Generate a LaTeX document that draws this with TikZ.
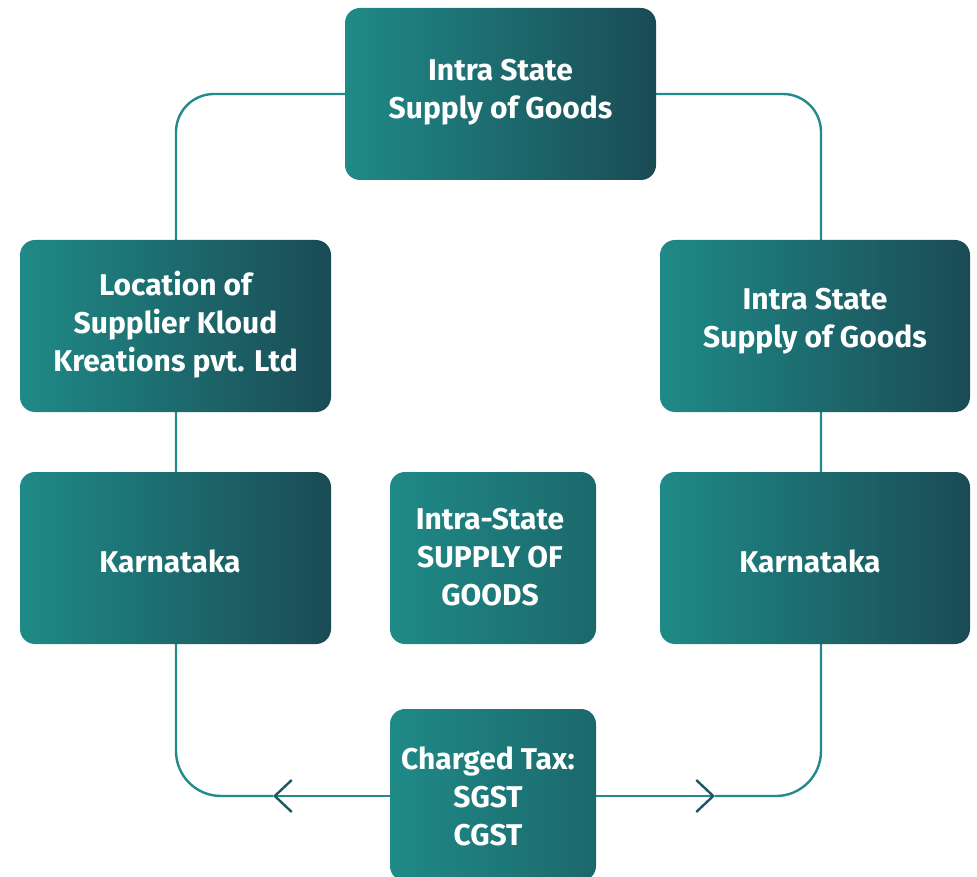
\documentclass[tikz,border=0pt]{standalone}
\usepackage{fontspec}
\setmainfont{Fira Sans}
\usetikzlibrary{arrows.meta}
\definecolor{tealL}{HTML}{1F8A87}
\definecolor{tealR}{HTML}{1A4B55}
\definecolor{tealM}{HTML}{1C686C}
\definecolor{lineC}{HTML}{23898A}
\definecolor{chev}{HTML}{1B5860}
\tikzset{
  box/.style={rounded corners=15pt, left color=tealL, right color=tealR, draw=none},
  boxm/.style={box, right color=tealM},
  lbl/.style={text=white, font=\fontsize{30}{38}\selectfont\bfseries, align=center, inner sep=0pt},
  loop/.style={draw=lineC, line width=2.4pt},
  chevtip/.style={-{Straight Barb[length=17pt,width=32pt,line width=2.4pt,color=chev]}}
}
\begin{document}
\begin{tikzpicture}[x=1pt,y=-1pt]
\useasboundingbox (0,0) rectangle (977,877);
\clip (0,0) rectangle (977,877);
% loop corners
\coordinate (tl) at (176,94);
\coordinate (tr) at (821,94);
\coordinate (bl) at (176,796);
\coordinate (br) at (821,796);
\coordinate (al) at (273,796);
\coordinate (ar) at (715,796);
\coordinate (tm) at (500,94);
% loop path (behind boxes)
\draw[loop] (tm) [rounded corners=38pt] -- (tr) -- (821,400) [rounded corners=45pt] -- (br) -- (ar);
\draw[loop] (tm) [rounded corners=38pt] -- (tl) -- (176,400) [rounded corners=45pt] -- (bl) -- (al);
% boxes
\path[box] (345,8) rectangle (656,180);
\node[lbl] (top) at (500.5,92) {Intra State\\Supply of Goods};
\path[box] (20,240) rectangle (331,412);
\node[lbl] (loc) at (175.5,325) {Location of\\Supplier Kloud\\Kreations pvt. Ltd};
\path[box] (20,472) rectangle (331,644);
\node[lbl] (kl) at (170,561) {Karnataka};
\path[box] (660,240) rectangle (970,412);
\node[lbl] (r1) at (815,321) {Intra State\\Supply of Goods};
\path[box] (660,472) rectangle (970,644);
\node[lbl] (kr) at (810,561) {Karnataka};
\path[boxm] (390,472) rectangle (596,644);
\node[lbl] (mid) at (490,557) {Intra-State\\SUPPLY OF\\GOODS};
\path[boxm] (390,709) rectangle (596,881);
\node[lbl] (tax) at (488,796) {Charged Tax:\\SGST\\CGST};
% arrows on bottom line
\draw[loop, chevtip] (390,796) -- (al);
\draw[loop, chevtip] (596,796) -- (ar);
\end{tikzpicture}
\end{document}
